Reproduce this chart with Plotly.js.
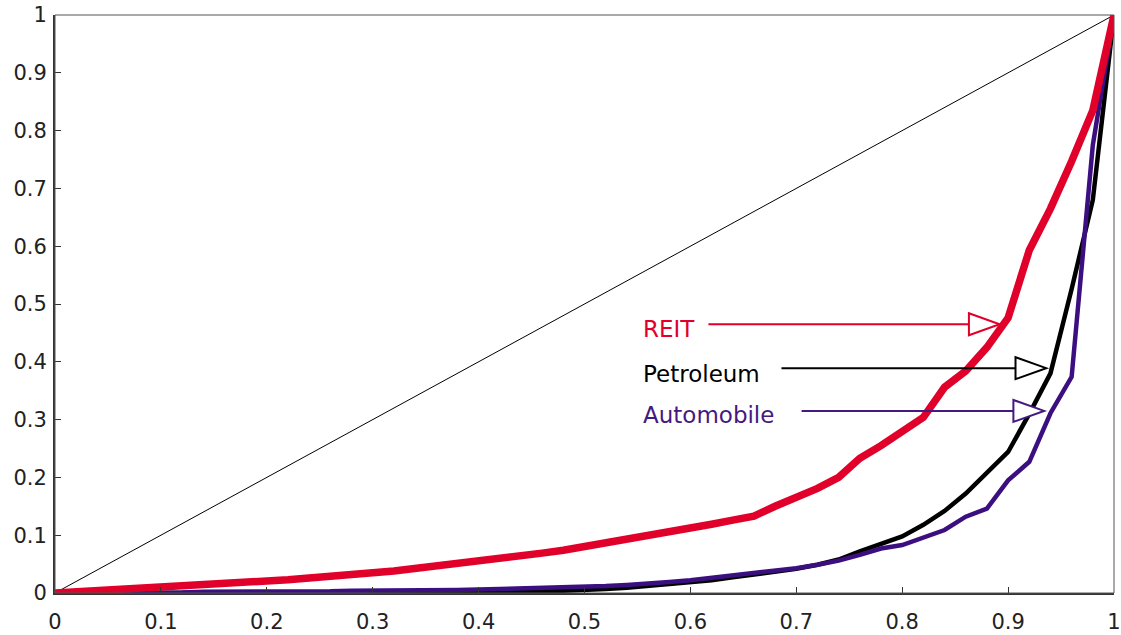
<!DOCTYPE html>
<html>
<head>
<meta charset="utf-8">
<script src="https://cdn.plot.ly/plotly-3.0.1.min.js"></script>
<style>html,body{margin:0;padding:0;background:#fff;}#chart{width:1121px;height:635px;}</style>
</head>
<body>
<div id="chart"></div>
<script>
// Cumulative share of population (x) for all curves
const xShare = [0,0.02,0.04,0.06,0.08,0.10,0.12,0.14,0.16,0.18,0.20,0.22,0.24,0.26,0.28,0.30,0.32,0.34,0.36,0.38,0.40,0.42,0.44,0.46,0.48,0.50,0.52,0.54,0.56,0.58,0.60,0.62,0.64,0.66,0.68,0.70,0.72,0.74,0.76,0.78,0.80,0.82,0.84,0.86,0.88,0.90,0.92,0.94,0.96,0.98,1.00];

const reit = [0,0.002,0.003,0.004,0.006,0.008,0.010,0.012,0.014,0.017,0.020,0.023,0.026,0.030,0.032,0.035,0.038,0.042,0.046,0.050,0.054,0.060,0.064,0.069,0.074,0.080,0.087,0.092,0.098,0.104,0.113,0.119,0.126,0.133,0.150,0.165,0.181,0.200,0.233,0.255,0.279,0.304,0.356,0.384,0.425,0.476,0.593,0.665,0.747,0.835,1.0];

const petroleum = [0,0,0,0,0,0,0,0,0,0,0,0,0,0,0,0.001,0.001,0.001,0.001,0.001,0.002,0.002,0.003,0.003,0.004,0.005,0.007,0.009,0.012,0.015,0.018,0.022,0.027,0.032,0.037,0.042,0.049,0.058,0.072,0.085,0.098,0.118,0.142,0.172,0.207,0.244,0.310,0.380,0.526,0.680,1.0];

const automobile = [0,0,0,0.001,0.001,0.001,0.001,0.002,0.002,0.002,0.002,0.003,0.003,0.003,0.004,0.004,0.004,0.005,0.005,0.005,0.006,0.007,0.007,0.008,0.009,0.010,0.012,0.014,0.016,0.019,0.022,0.026,0.030,0.034,0.039,0.043,0.049,0.056,0.066,0.077,0.083,0.097,0.109,0.132,0.146,0.195,0.227,0.311,0.374,0.775,1.0];

const equality = [0,1];

const tickVals = [0,0.1,0.2,0.3,0.4,0.5,0.6,0.7,0.8,0.9,1];
const tickText = ['0','0.1','0.2','0.3','0.4','0.5','0.6','0.7','0.8','0.9','1'];

// Labels with arrows: name, colour, label position, arrow start/tip
const labelNames  = ['REIT','Petroleum','Automobile'];
const labelColors = ['#E0002A','#000000','#45197F'];
const labelX      = [0.553,0.553,0.553];
const labelY      = [0.457,0.379,0.308];
const arrowStartX = [0.617,0.686,0.705];
const arrowTipX   = [0.892,0.936,0.934];
const arrowY      = [0.465,0.389,0.315];

const RED = '#E0002A', PURPLE = '#3B0F80';

const traces = [
  {x: equality, y: equality, mode:'lines', line:{color:'#000', width:1}, hoverinfo:'skip'},
  {x: xShare, y: petroleum, mode:'lines', line:{color:'#000', width:4.5}, name:'Petroleum'},
  {x: xShare, y: automobile, mode:'lines', line:{color:PURPLE, width:4.5}, name:'Automobile'},
  {x: xShare, y: reit, mode:'lines', line:{color:RED, width:7.5}, name:'REIT'}
];

const shapes = [
  {type:'rect', xref:'paper', yref:'paper', x0:0, x1:1, y0:0, y1:1, line:{color:'#555', width:1}, layer:'above'}
];
const annotations = [];
const triW = 0.029, triH = 0.019;
for (let i = 0; i < labelNames.length; i++) {
  const c = labelColors[i];
  const base = arrowTipX[i] - triW;
  shapes.push({type:'line', xref:'x', yref:'y', x0:arrowStartX[i], x1:base, y0:arrowY[i], y1:arrowY[i], line:{color:c, width:2}, layer:'above'});
  shapes.push({type:'path', xref:'x', yref:'y',
    path:`M ${base} ${arrowY[i]-triH} L ${arrowTipX[i]} ${arrowY[i]} L ${base} ${arrowY[i]+triH} Z`,
    fillcolor:'#ffffff', line:{color:c, width:2}, layer:'above'});
  annotations.push({x:labelX[i], y:labelY[i], xref:'x', yref:'y', text:labelNames[i], showarrow:false,
    xanchor:'left', yanchor:'middle', font:{family:'DejaVu Sans', size:23, color:c}});
}

const axisCommon = {
  range:[0,1], tickvals:tickVals, ticktext:tickText, ticks:'inside', ticklen:6, tickwidth:1, tickcolor:'#333',
  showline:true, linecolor:'#333', linewidth:2, showgrid:false, zeroline:false,
  tickfont:{family:'DejaVu Sans', size:21, color:'#222'}, fixedrange:true
};

const layout = {
  width:1121, height:635,
  margin:{l:55, r:7, t:15, b:42},
  paper_bgcolor:'#fff', plot_bgcolor:'#fff',
  showlegend:false,
  xaxis: Object.assign({}, axisCommon, {ticklabelstandoff:9}),
  yaxis: Object.assign({}, axisCommon, {ticklabelstandoff:2}),
  shapes: shapes,
  annotations: annotations
};

Plotly.newPlot('chart', traces, layout, {displayModeBar:false, staticPlot:true});
</script>
</body>
</html>
